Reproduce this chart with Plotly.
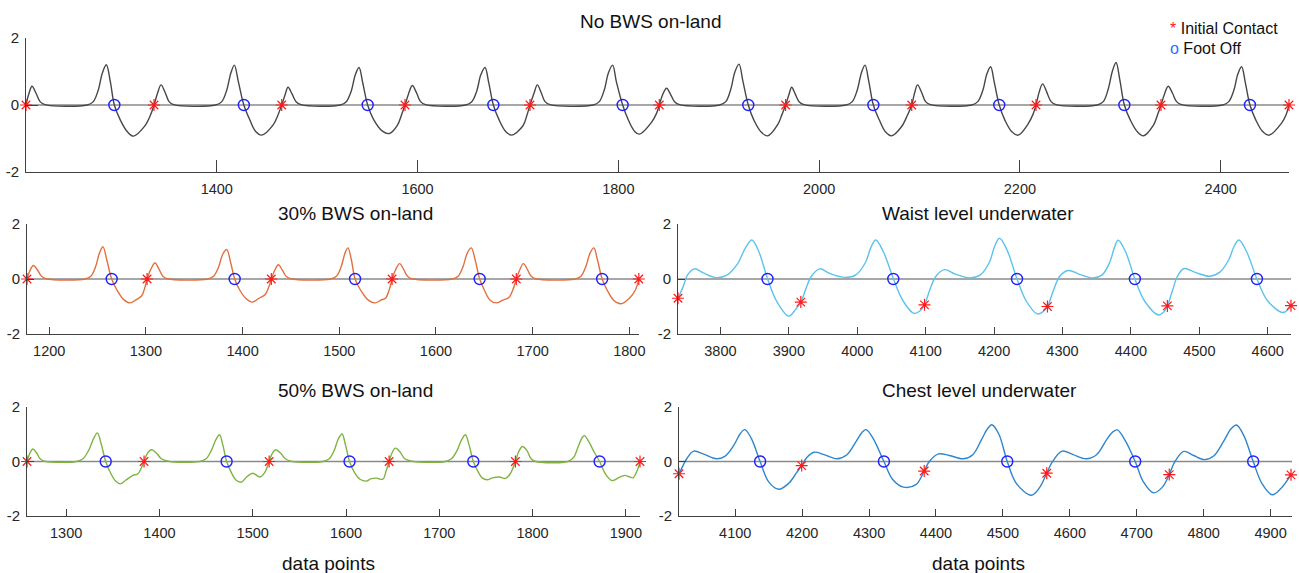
import plotly.graph_objects as go

W, H = 1299, 573

# ---------------- data ----------------
# No BWS on-land
top_x = [1210, 1213, 1216, 1220, 1224, 1229, 1271, 1277, 1282, 1286, 1290, 1294, 1298, 1304, 1311, 1317, 1328, 1334,
         1337.5, 1341, 1344.5, 1348.5, 1352.5, 1357, 1399, 1405, 1410, 1414, 1417.5, 1421.5, 1427, 1433, 1439, 1444.7, 1456, 1461,
         1464.7, 1468, 1471, 1475, 1479, 1484, 1523, 1529, 1534, 1538, 1541.7, 1545.5, 1550.3, 1556, 1565, 1572, 1580, 1584,
         1587.5, 1591, 1594.8, 1599, 1603, 1608, 1648, 1654, 1659, 1663, 1667.2, 1671, 1675.5, 1681, 1688, 1693.7, 1705, 1709,
         1712, 1716, 1719.3, 1723, 1727, 1732, 1775, 1781, 1786, 1790, 1794.3, 1798, 1804.3, 1810, 1816, 1821, 1833, 1838,
         1840.8, 1844, 1848, 1852, 1856, 1861, 1901, 1907, 1912, 1916, 1920.2, 1924, 1929.4, 1935, 1942, 1948.7, 1959, 1963,
         1966.6, 1970, 1972.6, 1976, 1980, 1985, 2027, 2033, 2038, 2042, 2045.7, 2049.5, 2054, 2060, 2066, 2072.2, 2082, 2088,
         2092.2, 2095, 2098, 2102, 2106, 2111, 2152, 2158, 2163, 2167, 2170.8, 2174.5, 2179.4, 2185, 2192, 2198.3, 2208, 2213,
         2216, 2219, 2222.6, 2226.5, 2231, 2236, 2277, 2283, 2288, 2292, 2295.7, 2299.5, 2304, 2310, 2317, 2323, 2333, 2337,
         2340.5, 2344, 2347.7, 2352, 2356, 2361, 2402, 2408, 2413, 2417, 2420.8, 2424.5, 2429.1, 2435, 2442, 2448.3, 2460.6, 2465, 2468]
top_y = [0, 0.35, 0.56, 0.35, 0.1, 0.01, 0, 0.1, 0.45, 0.95, 1.2, 0.7, 0, -0.45, -0.8, -0.93, -0.64, -0.3,
         0, 0.35, 0.6, 0.38, 0.1, 0.01, 0, 0.1, 0.45, 0.95, 1.19, 0.7, 0, -0.45, -0.8, -0.9, -0.6, -0.3,
         0, 0.3, 0.53, 0.33, 0.1, 0.01, 0, 0.1, 0.42, 0.9, 1.12, 0.65, 0, -0.42, -0.78, -0.85, -0.6, -0.3,
         0, 0.33, 0.58, 0.36, 0.1, 0.01, 0, 0.1, 0.42, 0.9, 1.12, 0.65, 0, -0.43, -0.8, -0.9, -0.62, -0.3,
         0, 0.35, 0.6, 0.38, 0.1, 0.01, 0, 0.1, 0.45, 0.95, 1.19, 0.7, 0, -0.45, -0.78, -0.87, -0.52, -0.25,
         0, 0.3, 0.5, 0.32, 0.1, 0.01, 0, 0.1, 0.47, 0.98, 1.22, 0.72, 0, -0.45, -0.8, -0.92, -0.57, -0.28,
         0, 0.32, 0.53, 0.34, 0.1, 0.01, 0, 0.1, 0.45, 0.95, 1.19, 0.7, 0, -0.45, -0.8, -0.92, -0.65, -0.3,
         0, 0.35, 0.6, 0.38, 0.1, 0.01, 0, 0.1, 0.43, 0.92, 1.14, 0.67, 0, -0.45, -0.8, -0.9, -0.57, -0.28,
         0, 0.37, 0.63, 0.4, 0.1, 0.01, 0, 0.1, 0.48, 1.0, 1.27, 0.75, 0, -0.45, -0.8, -0.92, -0.6, -0.3,
         0, 0.33, 0.56, 0.35, 0.1, 0.01, 0, 0.1, 0.43, 0.92, 1.14, 0.67, 0, -0.45, -0.8, -0.9, -0.54, -0.3, 0]
top_ic_x = [1210, 1337.5, 1464.7, 1587.5, 1712, 1840.8, 1966.6, 2092.2, 2216, 2340.5, 2468]
top_ic_y = [0, 0, 0, 0, 0, 0, 0, 0, 0, 0, 0]
top_fo_x = [1298, 1427, 1550.3, 1675.5, 1804.3, 1929.4, 2054, 2179.4, 2304, 2429.1]
top_fo_y = [0, 0, 0, 0, 0, 0, 0, 0, 0, 0]

# 30% BWS on-land
b30_x = [1177, 1180, 1183.6, 1188, 1192, 1197, 1237, 1243, 1248, 1252, 1255.6, 1259.5, 1264.6, 1270, 1277, 1283.6, 1290, 1295.7, 1299,
         1301.2, 1305, 1309.4, 1313.5, 1317.5, 1322, 1364, 1370, 1375, 1379.5, 1383.6, 1387.5, 1391.8, 1397, 1404, 1410.3, 1417, 1423.2, 1427,
         1429.7, 1433, 1437, 1441, 1445, 1450, 1491, 1497, 1502, 1506, 1509, 1512.5, 1516.3, 1522, 1530, 1537, 1543, 1548, 1552,
         1554.6, 1558, 1562.4, 1566.5, 1570.5, 1575, 1617, 1623, 1628, 1632.5, 1636.5, 1640.5, 1645.2, 1650, 1656, 1662.4, 1669, 1675.4, 1680,
         1683.1, 1686.5, 1690.4, 1694.5, 1698.5, 1703, 1744, 1750, 1755, 1759.5, 1763.3, 1767, 1771.9, 1777, 1784, 1791.3, 1800, 1806.4, 1809.8]
b30_y = [0, 0.3, 0.49, 0.32, 0.1, 0.01, 0, 0.1, 0.45, 0.95, 1.17, 0.7, 0, -0.4, -0.75, -0.87, -0.75, -0.61, -0.3,
         0, 0.35, 0.58, 0.36, 0.1, 0.01, 0, 0.1, 0.42, 0.9, 1.07, 0.62, 0, -0.4, -0.73, -0.84, -0.7, -0.57, -0.3,
         0, 0.3, 0.52, 0.33, 0.1, 0.01, 0, 0.1, 0.45, 0.95, 1.13, 0.7, 0, -0.4, -0.77, -0.87, -0.77, -0.69, -0.35,
         0, 0.32, 0.56, 0.35, 0.1, 0.01, 0, 0.1, 0.45, 0.95, 1.13, 0.7, 0, -0.4, -0.77, -0.87, -0.77, -0.67, -0.35,
         0, 0.32, 0.56, 0.35, 0.1, 0.01, 0, 0.1, 0.45, 0.95, 1.13, 0.7, 0, -0.4, -0.78, -0.9, -0.7, -0.39, 0]
b30_ic_x = [1177, 1301.2, 1429.7, 1554.6, 1683.1, 1809.8]
b30_ic_y = [0, 0, 0, 0, 0, 0]
b30_fo_x = [1264.6, 1391.8, 1516.3, 1645.2, 1771.9]
b30_fo_y = [0, 0, 0, 0, 0]

# Waist level underwater
waist_x = [3738, 3746, 3752, 3762, 3775, 3794, 3810, 3825, 3837, 3846, 3856, 3869, 3882, 3900, 3910,
           3917.5, 3925, 3933, 3945, 3960, 3983, 3998, 4012, 4020, 4027, 4038, 4053, 4067, 4083, 4092,
           4098.3, 4106, 4115, 4127.5, 4143, 4165, 4180, 4193, 4201, 4208, 4219, 4233.5, 4247, 4263, 4272,
           4278, 4287, 4296, 4308.4, 4325, 4345, 4358, 4369, 4376, 4381.4, 4392, 4405.8, 4420, 4440.5, 4448,
           4453.3, 4461, 4468, 4477.6, 4494, 4515.4, 4530, 4543, 4551, 4558, 4569, 4584.2, 4600, 4622, 4630, 4634]
waist_y = [-0.7, -0.25, 0.15, 0.37, 0.22, 0.05, 0.15, 0.55, 1.15, 1.42, 1.0, 0.0, -0.8, -1.35, -1.1,
           -0.84, -0.35, 0.1, 0.37, 0.2, 0.06, 0.15, 0.6, 1.15, 1.42, 1.0, 0.0, -0.8, -1.25, -1.15,
           -0.94, -0.4, 0.1, 0.34, 0.18, 0.04, 0.15, 0.6, 1.2, 1.48, 1.05, 0.0, -0.8, -1.27, -1.18,
           -1.0, -0.4, 0.1, 0.31, 0.17, 0.04, 0.15, 0.6, 1.15, 1.41, 1.0, 0.0, -0.8, -1.31, -1.2,
           -0.98, -0.4, 0.1, 0.38, 0.24, 0.1, 0.25, 0.7, 1.2, 1.42, 1.0, 0.0, -0.8, -1.22, -1.1, -0.97]
waist_ic_x = [3738, 3917.5, 4098.3, 4278, 4453.3, 4634]
waist_ic_y = [-0.7, -0.84, -0.94, -1.0, -0.98, -0.97]
waist_fo_x = [3868.8, 4052.7, 4233.5, 4405.8, 4584.2]
waist_fo_y = [0, 0, 0, 0, 0]

# 50% BWS on-land
b50_x = [1258, 1261, 1264.3, 1268, 1272, 1277, 1311, 1318, 1324, 1329.5, 1333.5, 1337.5, 1342.4, 1348, 1353, 1358, 1364, 1371.5, 1377, 1381,
         1383.5, 1387, 1391.6, 1397, 1402, 1409.5, 1443, 1450, 1455.5, 1460.5, 1464.4, 1468, 1472, 1477, 1482, 1487.6, 1494, 1500, 1507.7, 1513,
         1517.6, 1521, 1524.7, 1530, 1535, 1541, 1575, 1582, 1587.5, 1592, 1595.8, 1599.5, 1603.8, 1609, 1615, 1621.7, 1627, 1632.8, 1639.5, 1643,
         1646.2, 1649.5, 1653, 1658, 1663, 1670.8, 1706.5, 1713, 1719, 1724, 1728, 1732, 1736.5, 1742, 1746, 1751.2, 1757, 1764.6, 1771, 1776,
         1781.6, 1785, 1789.2, 1794, 1798, 1802.6, 1838, 1844, 1849, 1853, 1855.5, 1860, 1866, 1871.9, 1878, 1885.3, 1892, 1898.7, 1903, 1907.6, 1912, 1915.2]
b50_y = [0, 0.3, 0.46, 0.33, 0.1, 0.01, 0, 0.1, 0.4, 0.85, 1.05, 0.65, 0, -0.45, -0.72, -0.82, -0.68, -0.51, -0.45, -0.2,
         0, 0.3, 0.43, 0.3, 0.1, 0.01, 0, 0.1, 0.4, 0.8, 0.98, 0.6, 0, -0.4, -0.68, -0.76, -0.55, -0.43, -0.57, -0.4,
         0, 0.3, 0.43, 0.3, 0.1, 0.01, 0, 0.1, 0.42, 0.85, 1.01, 0.6, 0, -0.4, -0.65, -0.72, -0.63, -0.61, -0.65, -0.35,
         0, 0.33, 0.49, 0.35, 0.1, 0.01, 0, 0.1, 0.4, 0.8, 0.98, 0.6, 0, -0.4, -0.6, -0.67, -0.6, -0.57, -0.62, -0.45,
         0, 0.35, 0.55, 0.4, 0.12, 0.01, 0, 0.15, 0.55, 0.87, 0.95, 0.75, 0.35, 0, -0.45, -0.7, -0.6, -0.51, -0.55, -0.6, -0.35, 0]
b50_ic_x = [1258, 1383.5, 1517.6, 1646.2, 1781.6, 1915.2]
b50_ic_y = [0, 0, 0, 0, 0, 0]
b50_fo_x = [1342.4, 1472, 1603.8, 1736.5, 1871.9]
b50_fo_y = [0, 0, 0, 0, 0]

# Chest level underwater
chest_x = [4016, 4022, 4028, 4038, 4052, 4072, 4085, 4098, 4107, 4114.3, 4124, 4137.2, 4150, 4165, 4180, 4192,
           4199.3, 4207, 4218, 4233, 4252, 4267, 4281, 4290, 4295.5, 4306, 4322.2, 4335, 4351.4, 4370,
           4382.4, 4390, 4404, 4420, 4441.3, 4455, 4468, 4477, 4483.6, 4494, 4506.5, 4520, 4542.5, 4555,
           4565.5, 4573, 4588.4, 4605, 4624.4, 4640, 4655, 4664, 4671, 4682, 4697.7, 4710, 4725, 4738,
           4748.6, 4756, 4770.3, 4785, 4801.3, 4815, 4830, 4841, 4849, 4860, 4874, 4887, 4902.5, 4915, 4930.5]
chest_y = [-0.45, -0.15, 0.12, 0.38, 0.28, 0.1, 0.2, 0.6, 1.0, 1.17, 0.85, 0.0, -0.75, -1.02, -0.8, -0.4,
           -0.15, 0.15, 0.34, 0.25, 0.1, 0.25, 0.75, 1.08, 1.17, 0.85, 0.0, -0.65, -0.94, -0.85,
           -0.35, 0.0, 0.28, 0.22, 0.1, 0.25, 0.8, 1.2, 1.35, 1.0, 0.0, -0.8, -1.24, -0.95,
           -0.43, -0.05, 0.38, 0.25, 0.1, 0.25, 0.8, 1.08, 1.16, 0.8, 0.0, -0.75, -1.15, -0.95,
           -0.48, -0.05, 0.37, 0.22, 0.07, 0.2, 0.75, 1.2, 1.34, 0.95, 0.0, -0.8, -1.22, -1.0, -0.49]
chest_ic_x = [4016, 4199.3, 4382.4, 4565.5, 4748.6, 4930.5]
chest_ic_y = [-0.45, -0.15, -0.35, -0.43, -0.48, -0.49]
chest_fo_x = [4137.2, 4322.2, 4506.5, 4697.7, 4874]
chest_fo_y = [0, 0, 0, 0, 0]

titles = ["No BWS on-land", "30% BWS on-land", "Waist level underwater",
          "50% BWS on-land", "Chest level underwater"]
x_ranges = [[1210, 2468], [1177, 1810], [3738, 4634], [1258, 1915.2], [4016, 4932]]
x_ticks = [[1400, 1600, 1800, 2000, 2200, 2400],
           [1200, 1300, 1400, 1500, 1600, 1700, 1800],
           [3800, 3900, 4000, 4100, 4200, 4300, 4400, 4500, 4600],
           [1300, 1400, 1500, 1600, 1700, 1800, 1900],
           [4100, 4200, 4300, 4400, 4500, 4600, 4700, 4800, 4900]]
y_ticks = [-2, 0, 2]
y_ticktext = ["-2", "0", "2"]
legend_labels = ["Initial Contact", "Foot Off"]
xlabel = "data points"

# ---------------- styling / layout (pixel positions) ----------------
FONT = "Liberation Sans, Arial, Helvetica, sans-serif"
TXT = "#262626"
line_colors = ["#474747", "#E2703F", "#5CC2EE", "#80B441", "#2F86CC"]
# panel boxes in pixels: (x0, x1, ytop, ybottom)
boxes = [(26, 1289, 38, 172), (27, 639, 224, 334), (678, 1291, 224, 334),
         (27, 640, 407, 516), (679, 1292, 407, 516)]
ticklens = [12, 7, 7, 7, 7]
title_pos = [(651, 22), (355, 213), (978, 213), (355, 390), (979, 390)]

series = [
    (top_x, top_y, top_ic_x, top_ic_y, top_fo_x, top_fo_y),
    (b30_x, b30_y, b30_ic_x, b30_ic_y, b30_fo_x, b30_fo_y),
    (waist_x, waist_y, waist_ic_x, waist_ic_y, waist_fo_x, waist_fo_y),
    (b50_x, b50_y, b50_ic_x, b50_ic_y, b50_fo_x, b50_fo_y),
    (chest_x, chest_y, chest_ic_x, chest_ic_y, chest_fo_x, chest_fo_y),
]

fig = go.Figure()
layout = dict(template="none", width=W, height=H, autosize=False,
              margin=dict(l=0, r=0, t=0, b=0, pad=0, autoexpand=False),
              paper_bgcolor="white", plot_bgcolor="white", showlegend=False,
              font=dict(family=FONT, color=TXT))
shapes = []
annotations = []

for i, (sx, sy, icx, icy, fox, foy) in enumerate(series):
    xa = "x" if i == 0 else f"x{i+1}"
    ya = "y" if i == 0 else f"y{i+1}"
    fig.add_trace(go.Scatter(x=sx, y=sy, mode="lines", xaxis=xa, yaxis=ya,
                             line=dict(color=line_colors[i], width=1.4, shape="spline", smoothing=1.0),
                             hoverinfo="skip"))
    fig.add_trace(go.Scatter(x=fox, y=foy, mode="markers", xaxis=xa, yaxis=ya, cliponaxis=False,
                             marker=dict(symbol="circle-open", size=11, color="#1f1fff",
                                         line=dict(color="#1f1fff", width=1.4))))
    fig.add_trace(go.Scatter(x=icx, y=icy, mode="markers", xaxis=xa, yaxis=ya, cliponaxis=False,
                             marker=dict(symbol="asterisk-open", size=10, color="#ff1a1a",
                                         line=dict(color="#ff1a1a", width=1.2))))
    x0, x1, yt, yb = boxes[i]
    axkey = "xaxis" if i == 0 else f"xaxis{i+1}"
    aykey = "yaxis" if i == 0 else f"yaxis{i+1}"
    layout[axkey] = dict(domain=[x0 / W, x1 / W], range=x_ranges[i], anchor=ya, automargin=False,
                         tickmode="array", tickvals=x_ticks[i], ticks="inside", ticklen=ticklens[i],
                         tickcolor="#404040", tickwidth=1, showline=True, linecolor="#404040", linewidth=1,
                         showgrid=False, zeroline=False, ticklabelstandoff=4,
                         tickfont=dict(size=14.5, color=TXT, family=FONT), fixedrange=True)
    layout[aykey] = dict(domain=[1 - yb / H, 1 - yt / H], range=[-2, 2], anchor=xa, automargin=False,
                         tickmode="array", tickvals=y_ticks, ticktext=y_ticktext,
                         ticks="inside", ticklen=ticklens[i], tickcolor="#404040", tickwidth=1,
                         showline=True, linecolor="#404040", linewidth=1,
                         showgrid=False, zeroline=False, ticklabelstandoff=3,
                         tickfont=dict(size=15, color=TXT, family=FONT), fixedrange=True)
    shapes.append(dict(type="line", xref=f"{xa} domain", yref=ya, x0=0, x1=1, y0=0, y1=0,
                       line=dict(color="#8a8a8a", width=1.5), layer="below"))
    tx, ty = title_pos[i]
    annotations.append(dict(text=titles[i], x=tx / W, y=1 - ty / H, xref="paper", yref="paper",
                            xanchor="center", yanchor="middle", showarrow=False,
                            font=dict(size=19, color="#111111", family=FONT)))

for cx in (328, 978):
    annotations.append(dict(text=xlabel, x=cx / W, y=1 - 563 / H, xref="paper", yref="paper",
                            xanchor="center", yanchor="middle", showarrow=False,
                            font=dict(size=19, color="#111111", family=FONT)))

# legend (top right)
annotations.append(dict(text="<span style='color:#ff1a1a'>*</span> " + legend_labels[0],
                        x=1168 / W, y=1 - 29 / H, xref="paper", yref="paper",
                        xanchor="left", yanchor="middle", showarrow=False,
                        font=dict(size=16, color="#111111", family=FONT)))
annotations.append(dict(text="<span style='color:#1f6fff'>o</span> " + legend_labels[1],
                        x=1168 / W, y=1 - 49 / H, xref="paper", yref="paper",
                        xanchor="left", yanchor="middle", showarrow=False,
                        font=dict(size=16, color="#111111", family=FONT)))

layout["shapes"] = shapes
layout["annotations"] = annotations
fig.update_layout(**layout)

# remove the default page margin so the 1299x573 figure fills the window exactly
page_fix = ("document.body.style.margin='0px';document.body.style.padding='0px';"
            "document.body.style.overflow='hidden';"
            "document.documentElement.style.overflow='hidden';")
fig.write_html("out.html", post_script=page_fix,
               config={"displayModeBar": False, "staticPlot": True})
